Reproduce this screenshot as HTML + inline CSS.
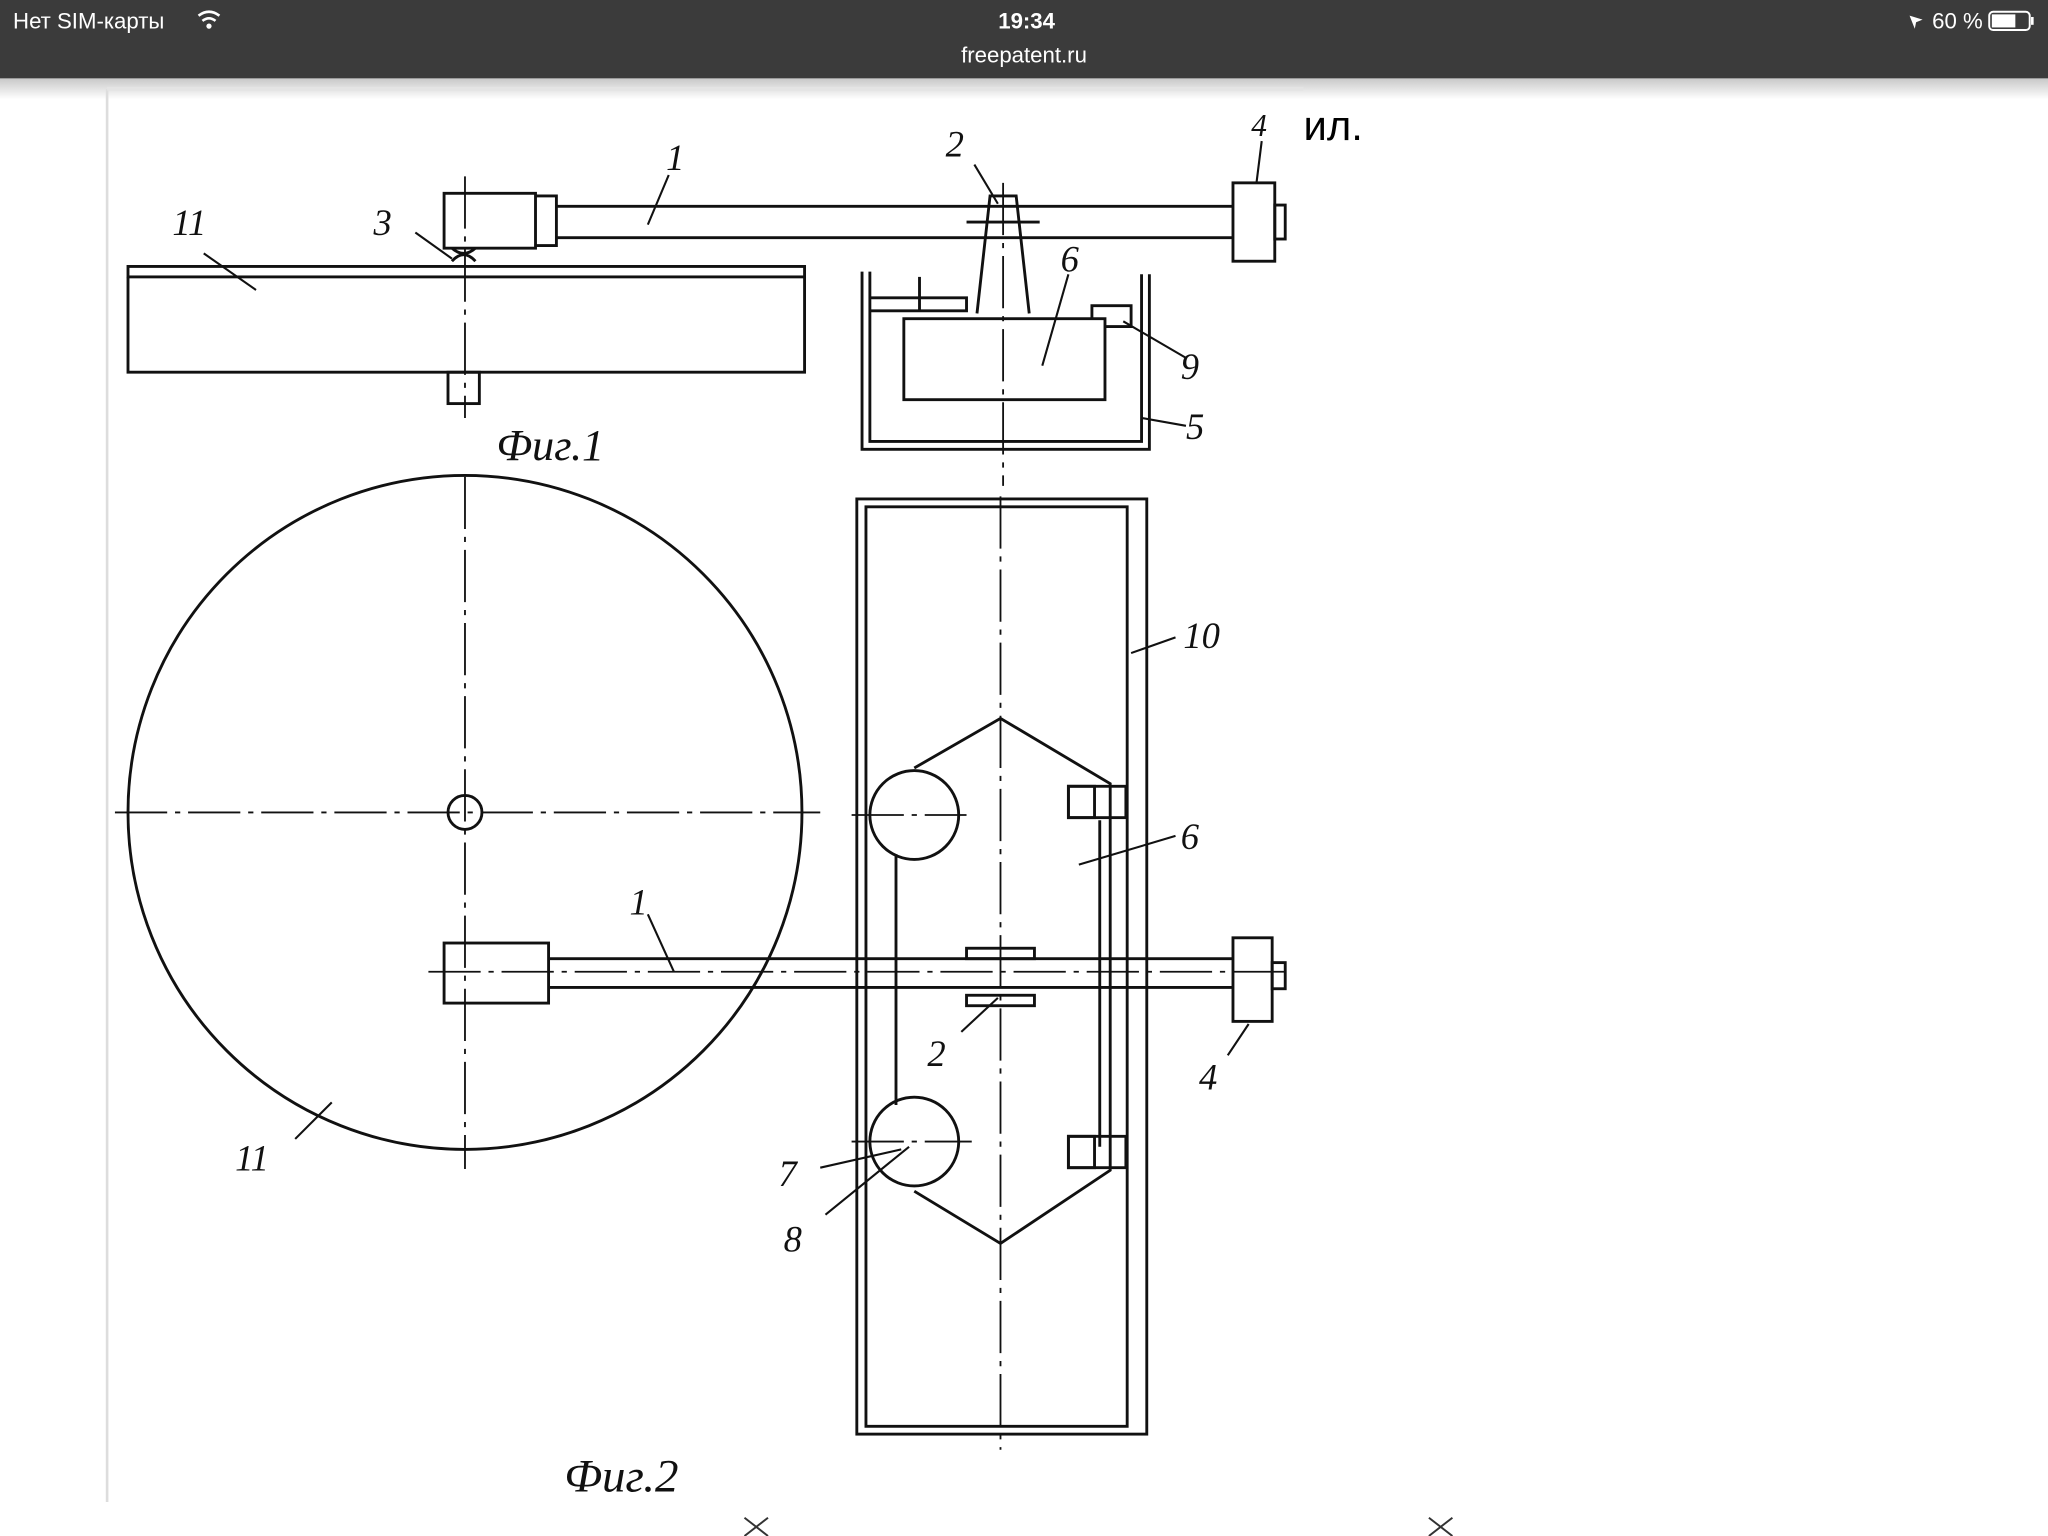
<!DOCTYPE html>
<html><head><meta charset="utf-8"><style>
html,body{margin:0;padding:0;background:#fff;}
svg{display:block}
</style></head><body>
<svg width="2048" height="1536" viewBox="0 0 1568 1176" xmlns="http://www.w3.org/2000/svg" font-family="Liberation Sans, sans-serif">
<defs>
<linearGradient id="sh" x1="0" y1="0" x2="0" y2="1"><stop offset="0" stop-color="#c8c8c8"/><stop offset="1" stop-color="#fff"/></linearGradient>
</defs>
<rect x="0" y="60" width="1568" height="16" fill="url(#sh)"/>
<rect x="0" y="0" width="1568" height="60" fill="#3b3b3b"/>
<text x="10" y="22" fill="#fff" font-size="17">Нет SIM-карты</text>
<path d="M152 12 q8 -6 16 0 M155 16 q5 -4 10 0" stroke="#fff" stroke-width="2" fill="none"/><circle cx="160" cy="20" r="2" fill="#fff"/>
<text x="786" y="22" fill="#fff" font-size="17" text-anchor="middle" font-weight="bold">19:34</text>
<text x="784" y="48" fill="#fff" font-size="17" text-anchor="middle">freepatent.ru</text>
<text x="1518" y="22" fill="#fff" font-size="17" text-anchor="end">60 %</text>
<path d="M1462 12 l4 10 l1 -5 l5 -2 z" fill="#fff"/>
<rect x="1523" y="9" width="31" height="14" rx="3" fill="none" stroke="#fff" stroke-width="1.5"/><rect x="1525" y="11" width="18" height="10" fill="#fff"/><rect x="1555" y="13" width="2" height="6" fill="#fff"/>
<line x1="82" y1="68" x2="82" y2="1150" stroke="#ddd" stroke-width="2"/>
<line x1="82" y1="68" x2="998" y2="68" stroke="#e4e4e4" stroke-width="3"/>
<text x="998" y="107" font-size="32" fill="#000">ил.</text>

<g stroke="#111" stroke-width="2.2" fill="none">
<!-- Fig1 -->
<rect x="98" y="204" width="518" height="8"/>
<path d="M98 212 L98 285 L616 285 L616 212"/>
<rect x="343" y="285" width="24" height="24"/>
<rect x="340" y="148" width="70" height="42"/>
<path d="M346 190 q9 8 18 0"/>
<path d="M346 200 q9 -10 18 0"/>
<path d="M410 150 L426 150 L426 188 L410 188"/>
<line x1="426" y1="158" x2="944" y2="158"/>
<line x1="426" y1="182" x2="944" y2="182"/>
<rect x="944" y="140" width="32" height="60"/>
<rect x="976" y="157" width="8" height="26"/>
<path d="M748 240 L758 150 L778 150 L788 240"/>
<line x1="740" y1="170" x2="796" y2="170"/>
<path d="M660 208 L660 344 L880 344 L880 210"/>
<path d="M666 208 L666 338 L874 338 L874 210"/>
<rect x="692" y="244" width="154" height="62"/>
<path d="M666 228 L740 228 L740 238 L666 238"/>
<line x1="704" y1="212" x2="704" y2="238"/>
<path d="M836 244 L836 234 L866 234 L866 250 L846 250"/>
<!-- Fig2 circle -->
<circle cx="356" cy="622" r="258"/>
<circle cx="356" cy="622" r="13"/>
<!-- box 10 -->
<rect x="656" y="382" width="222" height="716"/>
<path d="M663 388 L863 388 L863 1092 L663 1092 Z"/>
<path d="M700 588 L766 550 L850 600 L850 896 L766 952 L700 912"/>
<line x1="842" y1="628" x2="842" y2="878"/>
<line x1="686" y1="654" x2="686" y2="846"/>
<circle cx="700" cy="624" r="34"/>
<circle cx="700" cy="874" r="34"/>
<rect x="818" y="602" width="44" height="24"/><rect x="818" y="602" width="20" height="24"/>
<rect x="818" y="870" width="44" height="24"/><rect x="818" y="870" width="20" height="24"/>
<!-- arm Fig2 -->
<rect x="340" y="722" width="80" height="46"/>
<line x1="420" y1="734" x2="944" y2="734"/>
<line x1="420" y1="756" x2="944" y2="756"/>
<rect x="944" y="718" width="30" height="64"/>
<rect x="974" y="737" width="10" height="20"/>
<rect x="740" y="726" width="52" height="8"/>
<rect x="740" y="762" width="52" height="8"/>
</g>
<g stroke="#111" stroke-width="1.4" fill="none" stroke-dasharray="40 6 4 6">
<line x1="356" y1="135" x2="356" y2="320"/>
<line x1="356" y1="365" x2="356" y2="895"/>
<line x1="88" y1="622" x2="628" y2="622"/>
<line x1="652" y1="624" x2="740" y2="624"/>
<line x1="652" y1="874" x2="744" y2="874"/>
<line x1="768" y1="140" x2="768" y2="372"/>
<line x1="766" y1="380" x2="766" y2="1110"/>
<line x1="328" y1="744" x2="990" y2="744"/>
</g>
<g stroke="#111" stroke-width="1.6">
<line x1="156" y1="194" x2="196" y2="222"/>
<line x1="318" y1="178" x2="346" y2="198"/>
<line x1="496" y1="172" x2="512" y2="134"/>
<line x1="746" y1="126" x2="764" y2="156"/>
<line x1="966" y1="108" x2="962" y2="140"/>
<line x1="818" y1="210" x2="798" y2="280"/>
<line x1="860" y1="246" x2="908" y2="274"/>
<line x1="874" y1="320" x2="908" y2="326"/>
<line x1="866" y1="500" x2="900" y2="488"/>
<line x1="826" y1="662" x2="900" y2="640"/>
<line x1="496" y1="700" x2="516" y2="744"/>
<line x1="736" y1="790" x2="764" y2="764"/>
<line x1="940" y1="808" x2="956" y2="784"/>
<line x1="226" y1="872" x2="254" y2="844"/>
<line x1="628" y1="894" x2="690" y2="880"/>
<line x1="632" y1="930" x2="696" y2="878"/>
</g>
<g font-family="Liberation Serif, serif" font-style="italic" font-size="28" fill="#111">
<text x="132" y="180">11</text>
<text x="286" y="180">3</text>
<text x="510" y="130">1</text>
<text x="724" y="120">2</text>
<text x="958" y="104" font-size="24">4</text>
<text x="812" y="208">6</text>
<text x="904" y="290">9</text>
<text x="908" y="336">5</text>
<text x="906" y="496">10</text>
<text x="904" y="650">6</text>
<text x="482" y="700">1</text>
<text x="710" y="816">2</text>
<text x="918" y="834">4</text>
<text x="180" y="896">11</text>
<text x="596" y="908">7</text>
<text x="600" y="958">8</text>
<text x="380" y="352" font-size="34">Фиг.1</text>
<text x="432" y="1142" font-size="36">Фиг.2</text>
</g>
<path d="M570 1162 L588 1176 M588 1162 L570 1176 M1094 1162 L1112 1176 M1112 1162 L1094 1176" stroke="#333" stroke-width="1.5"/>
</svg>
</body></html>
